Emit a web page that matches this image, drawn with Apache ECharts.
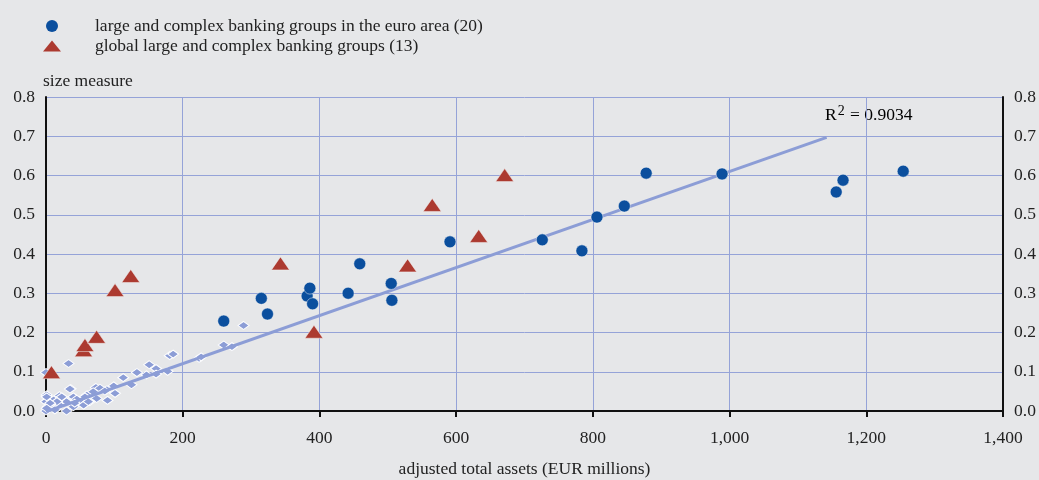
<!DOCTYPE html>
<html>
<head>
<meta charset="utf-8">
<script src="https://cdn.jsdelivr.net/npm/echarts@6/dist/echarts.min.js"></script>
<style>
  html, body { margin: 0; padding: 0; background: #e6e7e9; }
  #main { width: 1039px; height: 480px; }
</style>
</head>
<body>
<div id="main"></div>
<script>
// large and complex banking groups in the euro area (20)
const euroX = [260, 315, 324, 382, 386, 390, 442, 459, 505, 506, 591, 726, 784, 806, 846, 878, 989, 1156, 1166, 1254];
const euroY = [0.229, 0.287, 0.247, 0.293, 0.313, 0.273, 0.300, 0.375, 0.325, 0.282, 0.431, 0.436, 0.408, 0.494, 0.522, 0.606, 0.604, 0.558, 0.588, 0.611];

// global large and complex banking groups (13)
const globalX = [8, 55, 57, 74, 101, 124, 343, 392, 529, 565, 633, 671];
const globalY = [0.099, 0.155, 0.168, 0.189, 0.308, 0.344, 0.376, 0.202, 0.371, 0.525, 0.446, 0.601];

// other banks (small diamonds)
const otherX = [0, 33, 36, 73, 1, 20, 40, 60, 69, 74, 0, 11, 30, 50, 64, 3, 20, 40, 55, 0, 13, 30,
  181, 186, 224, 227, 260, 272, 289, 151, 161, 133, 147, 161, 178, 113, 125, 99, 89, 79, 90, 35,
  57, 45, 23, 16, 6, 1, 1, 42, 62, 86, 101];
const otherY = [0.098, 0.121, 0.057, 0.060, 0.041, 0.039, 0.036, 0.041, 0.049, 0.032, 0.024, 0.028, 0.024, 0.028, 0.024, 0.011, 0.015, 0.011, 0.015, 0.000, 0.003, 0.000,
  0.141, 0.145, 0.134, 0.138, 0.168, 0.164, 0.218, 0.118, 0.108, 0.098, 0.092, 0.094, 0.101, 0.085, 0.067, 0.064, 0.054, 0.058, 0.027, 0.056,
  0.036, 0.030, 0.036, 0.024, 0.020, 0.036, 0.007, 0.020, 0.024, 0.051, 0.045];

// fitted trend line
const trendX = [0, 1142];
const trendY = [-0.002, 0.697];
const r2Text = '0.9034';

const serif = 'Liberation Serif';
const txt = '#222';
const fs = 17.5;

function pairs(xs, ys) {
  return xs.map((x, i) => [x, ys[i]]);
}

const chart = echarts.init(document.getElementById('main'));

const yAxisBase = {
  type: 'value',
  min: 0,
  max: 0.8,
  interval: 0.1,
  axisLine: { show: true, lineStyle: { color: '#111', width: 2 } },
  axisTick: { show: false },
  axisLabel: {
    fontFamily: serif, fontSize: fs, color: txt, margin: 11,
    formatter: v => v.toFixed(1)
  }
};

const option = {
  backgroundColor: '#e6e7e9',
  animation: false,
  grid: { left: 46, right: 36, top: 97, bottom: 69, outerBoundsMode: 'none' },
  legend: {
    orient: 'vertical',
    left: 38,
    top: 12,
    itemGap: 2,
    itemWidth: 18,
    itemHeight: 12,
    itemStyle: { borderWidth: 0 },
    textStyle: { fontFamily: serif, fontSize: fs, color: txt, padding: [0, 0, 0, 29] },
    data: [
      { name: 'large and complex banking groups in the euro area (20)', icon: 'circle',
        itemStyle: { color: '#0b4f9e', borderWidth: 0, opacity: 1 } },
      { name: 'global large and complex banking groups (13)', icon: 'path://M0,11L9,0L18,11Z',
        itemStyle: { color: '#ac3a30', borderWidth: 0, opacity: 1 } }
    ]
  },
  xAxis: {
    type: 'value',
    min: 0,
    max: 1400,
    interval: 200,
    name: 'adjusted total assets (EUR millions)',
    nameLocation: 'middle',
    nameGap: 49,
    nameTextStyle: { fontFamily: serif, fontSize: fs, color: txt },
    axisLine: { lineStyle: { color: '#111', width: 2 } },
    axisTick: { show: true, length: 6, lineStyle: { color: '#111', width: 2 } },
    axisLabel: {
      fontFamily: serif, fontSize: fs, color: txt, margin: 18,
      formatter: v => v.toLocaleString('en-US')
    },
    splitLine: { show: true, lineStyle: { color: '#95a3d8', width: 1 } }
  },
  yAxis: [
    Object.assign({}, yAxisBase, {
      position: 'left',
      name: 'size measure',
      nameLocation: 'end',
      nameGap: 7,
      nameTextStyle: { fontFamily: serif, fontSize: fs, color: txt, align: 'left', padding: [0, 0, 0, -3] },
      splitLine: { show: true, lineStyle: { color: '#95a3d8', width: 1 } }
    }),
    Object.assign({}, yAxisBase, {
      position: 'right',
      splitLine: { show: false }
    })
  ],
  series: [
    {
      name: 'other',
      type: 'scatter',
      symbol: 'diamond',
      symbolSize: [11, 8],
      itemStyle: { color: '#8c9dd6', borderColor: '#ffffff', borderWidth: 1, opacity: 1 },
      data: pairs(otherX, otherY),
      z: 2
    },
    {
      name: 'trend',
      type: 'line',
      symbol: 'none',
      lineStyle: { color: '#8c9dd6', width: 3 },
      data: pairs(trendX, trendY),
      z: 3
    },
    {
      name: 'global large and complex banking groups (13)',
      type: 'scatter',
      symbol: 'triangle',
      symbolSize: [18, 13],
      itemStyle: { color: '#ac3a30', borderColor: '#f4f4f4', borderWidth: 0.5, opacity: 1 },
      data: pairs(globalX, globalY),
      z: 4
    },
    {
      name: 'large and complex banking groups in the euro area (20)',
      type: 'scatter',
      symbol: 'circle',
      symbolSize: 12,
      itemStyle: { color: '#0b4f9e', borderColor: '#f4f4f4', borderWidth: 0.5, opacity: 1 },
      data: pairs(euroX, euroY),
      z: 5
    }
  ],
  graphic: [
    {
      type: 'text',
      left: 825,
      top: 104,
      style: {
        text: '{a|R}{s|2}{a| = ' + r2Text + '}',
        rich: {
          a: { fontFamily: serif, fontSize: fs, color: txt, lineHeight: 22 },
          s: { fontFamily: serif, fontSize: 14, color: txt, verticalAlign: 'top', lineHeight: 22, padding: [0, 1, 6, 1] }
        }
      }
    }
  ]
};

chart.setOption(option);
</script>
</body>
</html>
